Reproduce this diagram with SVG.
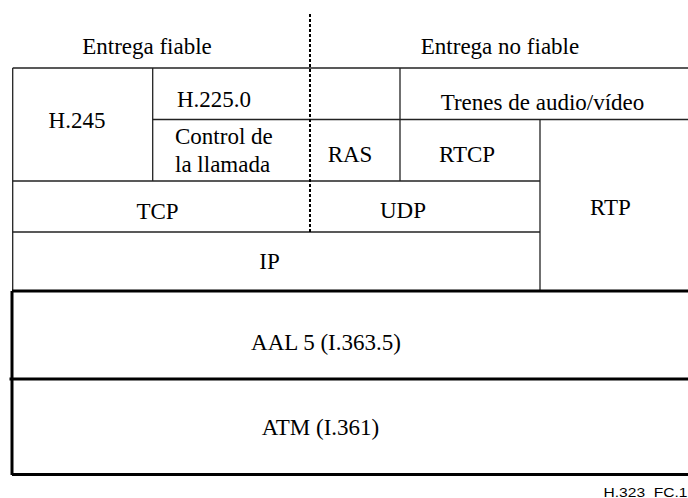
<svg xmlns="http://www.w3.org/2000/svg" width="688" height="498" viewBox="0 0 688 498">
<style>
  .t { font-family: "Liberation Serif", "Times New Roman", Times, "DejaVu Serif", serif; font-size: 23px; fill: #000; }
  .m { text-anchor: middle; }
  .thin { stroke: #222; stroke-width: 1.3; fill: none; }
  .thick { stroke: #000; stroke-width: 3; fill: none; }
  .dot { stroke: #000; stroke-width: 2; stroke-dasharray: 3 2; fill: none; }
  .note { font-family: "Liberation Sans", Arial, sans-serif; font-size: 13px; fill: #000; white-space: pre; }
</style>
<rect width="688" height="498" fill="#fff"/>
<g id="connectors">
  <line class="thin" x1="12.7" y1="68" x2="688" y2="68"/>
  <line class="thin" x1="12.7" y1="68" x2="12.7" y2="291"/>
  <line class="thin" x1="152.7" y1="68" x2="152.7" y2="181"/>
  <line class="thin" x1="152.7" y1="119.5" x2="688" y2="119.5"/>
  <line class="thin" x1="400" y1="68" x2="400" y2="181"/>
  <line class="thin" x1="12.7" y1="181" x2="540" y2="181"/>
  <line class="thin" x1="540" y1="119.5" x2="540" y2="291"/>
  <line class="thin" x1="12.7" y1="232" x2="540" y2="232"/>
  <line class="dot" x1="310" y1="14" x2="310" y2="232"/>
  <line class="thick" x1="12" y1="291" x2="688" y2="291"/>
  <line class="thick" x1="12" y1="291" x2="12" y2="475"/>
  <line class="thick" x1="9.5" y1="379" x2="688" y2="379"/>
  <line class="thick" x1="12" y1="474.5" x2="688" y2="474.5"/>
</g>
<g id="header-fiable"><text class="t m" x="147" y="54" font-family="Liberation Serif, serif">Entrega fiable</text></g>
<g id="header-nofiable"><text class="t m" x="500" y="54" font-family="Liberation Serif, serif">Entrega no fiable</text></g>
<g id="h245"><text class="t m" x="77" y="128">H.245</text></g>
<g id="h2250"><text class="t m" x="214" y="107">H.225.0</text></g>
<g id="control"><text class="t" x="175" y="143.5">Control de</text><text class="t" x="175" y="172">la llamada</text></g>
<g id="ras"><text class="t m" x="350" y="161.5">RAS</text></g>
<g id="rtcp"><text class="t m" x="467" y="161.5">RTCP</text></g>
<g id="trenes"><text class="t m" x="542.5" y="110">Trenes de audio/vídeo</text></g>
<g id="tcp"><text class="t m" x="157.5" y="219">TCP</text></g>
<g id="udp"><text class="t m" x="403" y="218">UDP</text></g>
<g id="rtp"><text class="t m" x="610.5" y="215">RTP</text></g>
<g id="ip"><text class="t m" x="269.5" y="268.5">IP</text></g>
<g id="aal5"><text class="t m" x="326" y="350">AAL 5 (I.363.5)</text></g>
<g id="atm"><text class="t m" x="320.5" y="435">ATM (I.361)</text></g>
<g id="figref"><text class="note" x="603.5" y="496.5" textLength="84" lengthAdjust="spacingAndGlyphs" xml:space="preserve">H.323  FC.1</text></g>
</svg>
